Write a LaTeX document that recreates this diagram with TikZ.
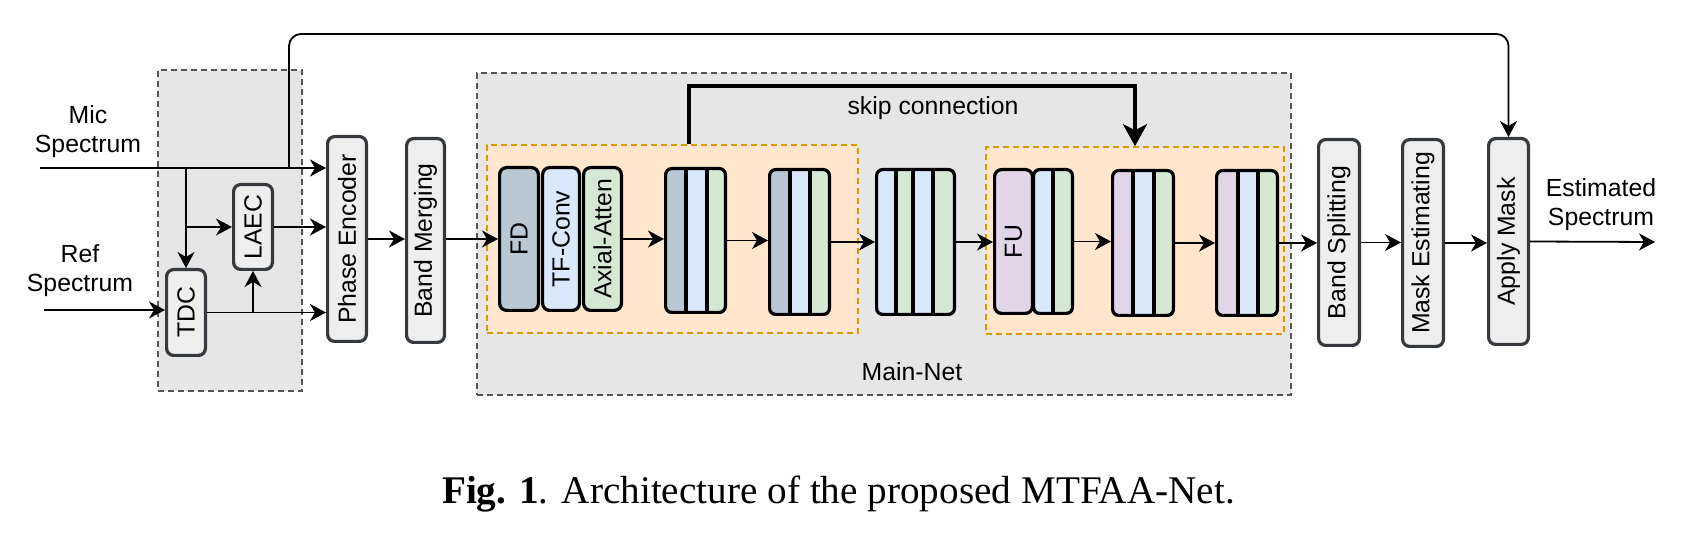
\documentclass[tikz,border=0pt]{standalone}
\usepackage{fontspec}
\usepackage{graphicx}
\setsansfont{Liberation Sans}
\setmainfont{Liberation Serif}
\usetikzlibrary{arrows.meta,calc}
\definecolor{boxfill}{HTML}{EEEEEE}
\definecolor{boxline}{HTML}{36393D}
\definecolor{netfill}{HTML}{E6E6E6}
\definecolor{netline}{HTML}{555555}
\definecolor{orfill}{HTML}{FFE6CC}
\definecolor{orline}{HTML}{D79B00}
\definecolor{cgrey}{HTML}{BAC8D3}
\definecolor{cblue}{HTML}{DAE8FC}
\definecolor{cgreen}{HTML}{D5E8D4}
\definecolor{cpurple}{HTML}{E1D5E7}
\begin{document}
\begin{tikzpicture}[x=0.5pt,y=-0.5pt,
 lbl/.style={font=\sffamily\fontsize{12.4}{14.5}\selectfont, inner sep=0pt},
 gbox/.style={draw=boxline, fill=boxfill, line width=1.6pt, rounded corners=3.5pt, inner sep=0pt, font=\sffamily\fontsize{12.4}{14.5}\selectfont},
 dbox/.style={draw=netline, fill=netfill, line width=0.8pt, dash pattern=on 3pt off 2pt, inner sep=0pt},
 obox/.style={draw=orline, fill=orfill, line width=0.8pt, dash pattern=on 3pt off 2pt, inner sep=0pt},
 blk/.style={draw=black, line width=1.6pt, rounded corners=3.5pt, inner sep=0pt, font=\sffamily\fontsize{12.4}{14.5}\selectfont},
 grp/.style={draw=black, line width=1.6pt, rounded corners=3pt, inner sep=0pt},
 conn/.style={line width=0.9pt, -{Stealth[length=8pt,width=8.5pt,inset=2.5pt]}},
 bigconn/.style={line width=1.6pt, -{Stealth[length=11pt,width=12pt,inset=3pt]}},
 divl/.style={line width=1.6pt}
]
\fill[white] (0,0) rectangle (1701,533);
\useasboundingbox (0,0) rectangle (1701,533);

% background frames
\node[dbox, minimum width=72pt, minimum height=160.5pt] (front) at (230,230.5) {};
\node[dbox, minimum width=407pt, minimum height=161pt] (mainnet) at (884,234) {};
\node[obox, minimum width=185.5pt, minimum height=94pt] (ob1) at (672.5,239) {};
\node[obox, minimum width=149pt, minimum height=93.5pt] (ob2) at (1135,240.5) {};

% grey boxes
\node[gbox, minimum width=19.4pt, minimum height=42.9pt] (tdc) at (186,312.5) {\rotatebox{90}{TDC}};
\node[gbox, minimum width=19.4pt, minimum height=42.4pt] (laec) at (253,227) {\rotatebox{90}{LAEC}};
\node[gbox, minimum width=19.4pt, minimum height=102.4pt] (pe) at (347,239) {\rotatebox{90}{Phase Encoder}};
\node[gbox, minimum width=18.9pt, minimum height=101.9pt] (bm) at (425.5,240.5) {\rotatebox{90}{Band Merging}};
\node[gbox, minimum width=20.4pt, minimum height=102.9pt] (bs) at (1339,242.5) {\rotatebox{90}{Band Splitting}};
\node[gbox, minimum width=20.4pt, minimum height=103.4pt] (me) at (1423,243) {\rotatebox{90}{Mask Estimating}};
\node[gbox, minimum width=19.9pt, minimum height=102.9pt] (am) at (1508.5,241.5) {\rotatebox{90}{Apply Mask}};

% first encoder block
\node[blk, fill=cgrey, minimum width=19.4pt, minimum height=71.4pt] (fd) at (519,239) {\rotatebox{90}{FD}};
\node[blk, fill=cblue, minimum width=18.4pt, minimum height=71.4pt] (tf) at (561,239) {\rotatebox{90}{TF-Conv}};
\node[blk, fill=cgreen, minimum width=18.9pt, minimum height=71.4pt] (ax) at (602.5,239) {\rotatebox{90}{Axial-Atten}};

% stripe fills
\fill[cgrey] (666,169) rectangle (686,312);
\fill[cblue] (686,169) rectangle (707,312);
\fill[cgreen] (707,169) rectangle (725,312);
\fill[cgrey] (770,170) rectangle (790,314);
\fill[cblue] (790,170) rectangle (810,314);
\fill[cgreen] (810,170) rectangle (829,314);
\fill[cblue] (877,170) rectangle (896,314);
\fill[cgreen] (896,170) rectangle (913,314);
\fill[cblue] (913,170) rectangle (933,314);
\fill[cgreen] (933,170) rectangle (954,314);
\fill[cblue] (1035,170) rectangle (1053,313);
\fill[cgreen] (1053,170) rectangle (1072,313);
\fill[cpurple] (1113,171) rectangle (1133,315);
\fill[cblue] (1133,171) rectangle (1154,315);
\fill[cgreen] (1154,171) rectangle (1173,315);
\fill[cpurple] (1217,171) rectangle (1238,315);
\fill[cblue] (1238,171) rectangle (1258,315);
\fill[cgreen] (1258,171) rectangle (1277,315);

% dividers
\draw[divl] (686,168.6) -- (686,312.4);
\draw[divl] (707,168.6) -- (707,312.4);
\draw[divl] (790,169.6) -- (790,314.4);
\draw[divl] (810,169.6) -- (810,314.4);
\draw[divl] (896,169.6) -- (896,314.4);
\draw[divl] (913,169.6) -- (913,314.4);
\draw[divl] (933,169.6) -- (933,314.4);
\draw[divl] (1053,169.6) -- (1053,313.4);
\draw[divl] (1133,170.6) -- (1133,315.4);
\draw[divl] (1154,170.6) -- (1154,315.4);
\draw[divl] (1238,170.6) -- (1238,315.4);
\draw[divl] (1258,170.6) -- (1258,315.4);

% group outlines
\node[grp, minimum width=29.9pt, minimum height=71.9pt] (e2) at (695.5,240.5) {};
\node[grp, minimum width=29.9pt, minimum height=72.4pt] (e3) at (799.5,242) {};
\node[grp, minimum width=38.9pt, minimum height=72.4pt] (mid) at (915.5,242) {};
\node[blk, fill=cpurple, minimum width=18.9pt, minimum height=71.9pt] (fu) at (1013.5,241.5) {\rotatebox{90}{FU}};
\node[grp, minimum width=19.4pt, minimum height=71.9pt] (fu2) at (1053,241.5) {};
\node[grp, minimum width=30.4pt, minimum height=72.4pt] (e6) at (1143,243) {};
\node[grp, minimum width=30.4pt, minimum height=72.4pt] (e7) at (1247,243) {};

% labels
\node[lbl, align=center] (mic) at (88,132) {Mic\\Spectrum};
\node[lbl, align=center] (ref) at (80,271) {Ref\\Spectrum};
\node[lbl, align=center] (est) at (1601,205) {Estimated\\Spectrum};
\node[lbl, anchor=base] (skiplbl) at (933,115) {skip connection};
\node[lbl, anchor=base] (mnlbl) at (912,381) {Main-Net};
\node[font=\fontsize{19.6}{22}\selectfont, anchor=base, inner sep=0pt] (cap) at (838.5,503) {\textbf{Fig. 1}. Architecture of the proposed MTFAA-Net.};

% connector points
\coordinate (micin) at (40,168);
\coordinate (refin) at (44,310);
\coordinate (tapA) at (186,168);
\coordinate (tapB) at (186,227);
\coordinate (tap) at (289,168);
\coordinate (looptop) at (289,34);
\coordinate (skipL) at (689,86);
\coordinate (outend) at (1655,242);

% front-end connectors
\draw[conn] (micin) -- (micin -| pe.west);
\draw[conn] (tapA) -- (tdc.north);
\draw[conn] (tapB) -- (laec.west);
\draw[conn] (refin) -- (refin -| tdc.west);
\draw[conn] (tdc.east) -- (tdc.east -| pe.west);
\draw[conn] (laec.south |- tdc.east) -- (laec.south);
\draw[conn] (laec.east) -- (laec.east -| pe.west);
\draw[conn] (pe.east) -- (pe.east -| bm.west);
\draw[conn] (bm.east |- fd.west) -- (fd.west);
\draw[conn, rounded corners=6pt] (tap) -- (looptop) -| (am.north);

% main-net connectors
\draw[conn] (ax.east) -- (ax.east -| e2.west);
\draw[conn] (e2.east) -- (e2.east -| e3.west);
\draw[conn] (e3.east) -- (e3.east -| mid.west);
\draw[conn] (mid.east) -- (mid.east -| fu.west);
\draw[conn] (fu2.east) -- (fu2.east -| e6.west);
\draw[conn] (e6.east) -- (e6.east -| e7.west);
\draw[conn] (e7.east) -- (e7.east -| bs.west);
\draw[bigconn] (ob1.north -| skipL) -- (skipL) -| (ob2.north);

% back-end connectors
\draw[conn] (bs.east) -- (bs.east -| me.west);
\draw[conn] (me.east) -- (me.east -| am.west);
\draw[conn] (am.east) -- (outend);
\end{tikzpicture}
\end{document}
